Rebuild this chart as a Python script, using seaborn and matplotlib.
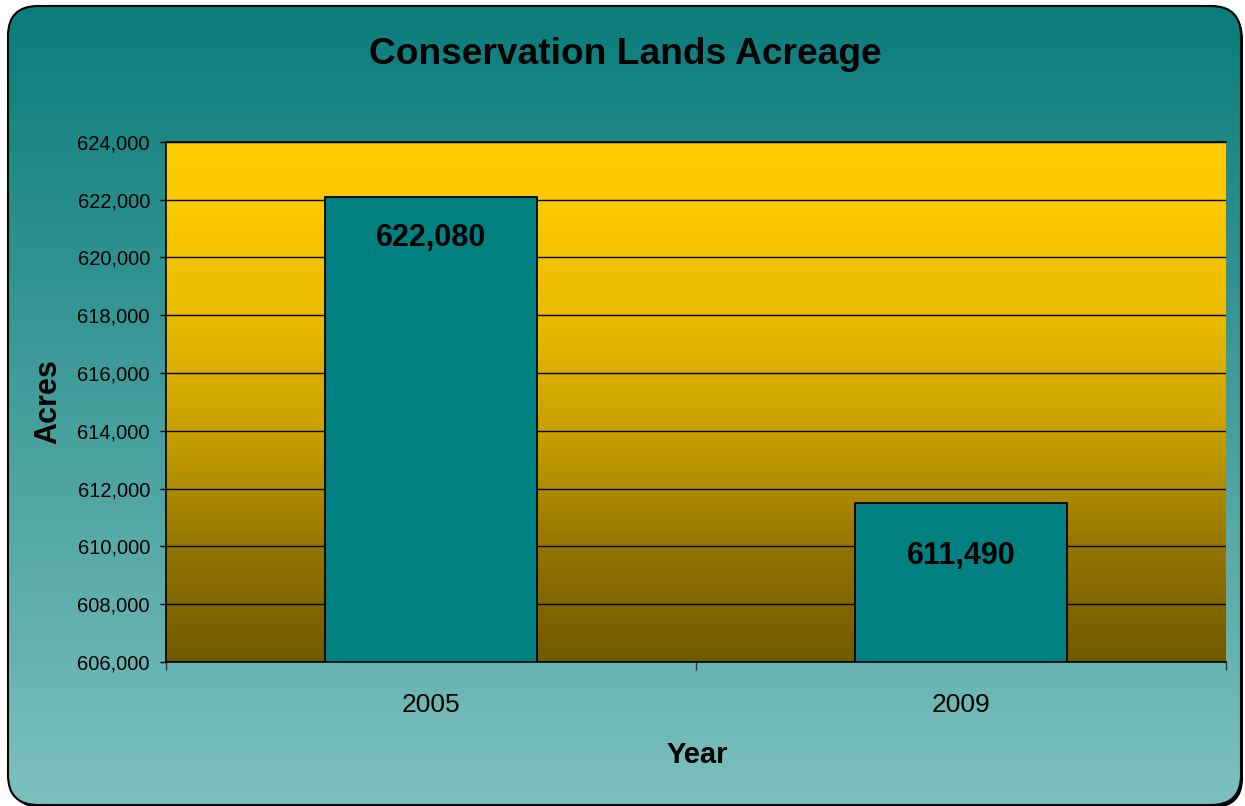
import numpy as np
import pandas as pd
import matplotlib
matplotlib.use("Agg")
import matplotlib.pyplot as plt
import seaborn as sns
from matplotlib.patches import FancyBboxPatch
from matplotlib.transforms import IdentityTransform
from matplotlib.colors import LinearSegmentedColormap
from matplotlib.ticker import FixedLocator, FuncFormatter

# Data
years = ["2005", "2009"]
acres = [622080, 611490]
y_ticks = [606000, 608000, 610000, 612000, 614000, 616000, 618000, 620000, 622000, 624000]

df = pd.DataFrame({"Year": years, "Acres": acres})

sns.set_theme(style="white")
plt.rcParams["font.family"] = ["Liberation Sans", "DejaVu Sans"]

fig = plt.figure(figsize=(12.45, 8.06), dpi=100)
fig.patch.set_facecolor("white")

# Rounded card with a drop shadow and teal vertical gradient
box_style = "round,pad=0,rounding_size=30"
shadow = FancyBboxPatch((11, -2), 1232, 799, boxstyle=box_style,
                        transform=IdentityTransform(), fc="black", ec="none", zorder=-3)
fig.add_artist(shadow)
card = FancyBboxPatch((8, 1), 1233, 799, boxstyle=box_style,
                      transform=IdentityTransform(), fc="none", ec="black", lw=1.5, zorder=10)

grad = np.linspace(1, 0, 256).reshape(-1, 1)
teal_cmap = LinearSegmentedColormap.from_list("teal", ["#7cc0be", "#0a7c7a"])
bg_ax = fig.add_axes([0, 0, 1, 1], zorder=-2)
bg_ax.axis("off")
bg_im = bg_ax.imshow(grad, aspect="auto", extent=(0, 1, 0, 1), cmap=teal_cmap)
bg_im.set_clip_path(card)
fig.add_artist(card)

# Main plot
ax = fig.add_axes([0.1333, 0.1787, 0.8514, 0.6452])
sns.barplot(data=df, x="Year", y="Acres", color="#008080", saturation=1,
            width=0.4, edgecolor="black", linewidth=1.3, ax=ax, zorder=2)

gold_cmap = LinearSegmentedColormap.from_list(
    "gold",
    [(0.0, "#705a00"), (0.22, "#937500"), (0.44, "#c8a000"),
     (0.67, "#ebbb00"), (0.89, "#fcc900"), (1.0, "#ffcc00")])
ax.imshow(grad, aspect="auto", extent=(0, 1, 0, 1), transform=ax.transAxes,
          cmap=gold_cmap, zorder=0)

ax.set_xlim(-0.5, 1.5)
ax.set_ylim(y_ticks[0], y_ticks[-1])
ax.yaxis.set_major_locator(FixedLocator(y_ticks))
ax.yaxis.set_major_formatter(FuncFormatter(lambda v, p: f"{v:,.0f}"))
ax.set_axisbelow(True)
ax.grid(axis="y", color="black", lw=1)
ax.grid(axis="x", visible=False)

for side in ["left", "bottom", "top"]:
    ax.spines[side].set_visible(True)
    ax.spines[side].set_color("black")
    ax.spines[side].set_linewidth(1.2)
ax.spines["right"].set_visible(False)

ax.tick_params(axis="y", which="major", direction="out", length=4.5, width=1,
               color="black", pad=7, labelsize=14.5, labelcolor="black", left=True)
ax.tick_params(axis="x", which="major", length=0, pad=22, labelsize=19, labelcolor="black")
ax.xaxis.set_minor_locator(FixedLocator([-0.5, 0.5, 1.5]))
ax.tick_params(axis="x", which="minor", direction="out", length=6, width=1,
               color="#333333", bottom=True)

ax.set_xlabel("Year", fontsize=21, fontweight="bold", color="black")
ax.set_ylabel("Acres", fontsize=22, fontweight="bold", color="black")
ax.xaxis.set_label_coords(0.501, -0.152)
ax.yaxis.set_label_coords(-0.097, 0.5)

# Value labels inside the bars
label_offsets = [29.5, 38]
for bar, value, off in zip(ax.containers[0], acres, label_offsets):
    ax.annotate(f"{value:,}", xy=(bar.get_x() + bar.get_width() / 2, value),
                xytext=(0, -off), textcoords="offset points",
                ha="center", va="center", fontsize=22, fontweight="bold", color="black")

fig.text(0.502, 1 - 55 / 806, "Conservation Lands Acreage", ha="center", va="center",
         fontsize=26.7, fontweight="bold", color="black")

fig.savefig("out.png", dpi=100)
